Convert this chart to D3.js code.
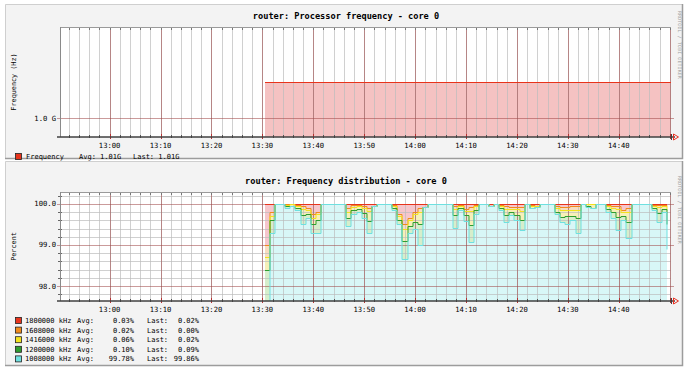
<!DOCTYPE html>
<html>
<head>
<meta charset="utf-8">
<script src="https://cdn.jsdelivr.net/npm/d3@7"></script>
<style>
body { margin: 0; background: #fff; }
text { font-family: "DejaVu Sans Mono", monospace; fill: #000; }
</style>
</head>
<body>
<script>
// ---- data ----
const viewStartLabel = "12:50:15";
const viewEndLabel = "14:50:15";
const tickLabels = ["13:00", "13:10", "13:20", "13:30", "13:40", "13:50",
    "14:00", "14:10", "14:20", "14:30", "14:40"];

// top graph: processor frequency (Hz), 5 minute samples from 13:30:30
const freqStart = "13:30:30";
const freqStepSec = 300;
const freqValues = [1.01e9, 1.01e9, 1.01e9, 1.01e9, 1.01e9, 1.01e9, 1.01e9, 1.01e9,
    1.01e9, 1.01e9, 1.01e9, 1.01e9, 1.01e9, 1.01e9, 1.01e9, 1.01e9, 1.01e9];
const freqYTicks = [1.0e9];
const freqYLabels = ["1.0 G"];

// bottom graph: frequency distribution (percent), 1 minute samples from 13:30:30
const distStart = "13:30:30";
const distStepSec = 60;
const pct1008 = [97.6, 99.3, 100, 100, 99.9, 99.95, 99.85, 99.52, 99.65, 99.3,
    99.3, 100, 100, 100, 100, 100, 99.45, 99.75, 99.8, 99.65,
    99.28, 99.95, 100, 100, 100, 99.85, 99.5, 98.65, 99.3, 99.4,
    99.0, 99.93, 100, 100, 100, 100, 100, 99.42, 99.85, 99.58,
    99.08, 99.75, 100, 100, 99.95, 100, 99.85, 99.57, 99.73, 99.6,
    99.37, 100, 99.9, 99.92, 100, 100, 100, 99.75, 99.57, 99.5,
    99.6, 99.3, 100, 99.92, 99.9, 100, 100, 99.8, 99.65, 99.37,
    99.6, 99.16, 100, 100, 100, 100, 99.85, 99.57, 99.8, 98.9];
const pct1200 = [0.8, 0.3, 0, 0, 0.05, 0, 0.05, 0.2, 0.1, 0.2,
    0.3, 0, 0, 0, 0, 0, 0.2, 0.1, 0.08, 0.12,
    0.3, 0, 0, 0, 0, 0.05, 0.1, 0.45, 0.15, 0.15,
    0.5, 0, 0, 0, 0, 0, 0, 0.3, 0.05, 0.15,
    0.4, 0.1, 0, 0, 0, 0, 0.05, 0.15, 0.07, 0.12,
    0.25, 0, 0, 0, 0, 0, 0, 0.05, 0.12, 0.2,
    0.1, 0.35, 0, 0.04, 0, 0, 0, 0.08, 0.15, 0.3,
    0.1, 0.4, 0, 0, 0, 0, 0.05, 0.2, 0.08, 0.6];
const pct1416 = [0.3, 0.1, 0, 0, 0.03, 0.05, 0.05, 0.15, 0.1, 0.15,
    0.15, 0, 0, 0, 0, 0, 0.15, 0.08, 0.07, 0.12,
    0.25, 0, 0, 0, 0, 0.05, 0.1, 0.3, 0.15, 0.2,
    0.3, 0, 0, 0, 0, 0, 0, 0.15, 0.05, 0.1,
    0.35, 0.1, 0, 0, 0, 0, 0.05, 0.15, 0.08, 0.15,
    0.2, 0, 0.05, 0.04, 0, 0, 0, 0.1, 0.15, 0.15,
    0.15, 0.2, 0, 0.04, 0.1, 0, 0, 0.07, 0.1, 0.2,
    0.1, 0.25, 0, 0, 0, 0, 0.05, 0.15, 0.07, 0.35];
const pct1608 = [0.3, 0.1, 0, 0, 0.01, 0, 0.03, 0.08, 0.05, 0.1,
    0.05, 0, 0, 0, 0, 0, 0.1, 0.04, 0.03, 0.05,
    0.07, 0, 0, 0, 0, 0.03, 0.05, 0.1, 0.05, 0.05,
    0.1, 0, 0, 0, 0, 0, 0, 0.08, 0.02, 0.05,
    0.1, 0.03, 0, 0, 0, 0, 0.03, 0.08, 0.04, 0.05,
    0.1, 0, 0.02, 0, 0, 0, 0, 0.05, 0.08, 0.07,
    0.1, 0.1, 0, 0, 0, 0, 0, 0.03, 0.05, 0.08,
    0.05, 0.1, 0, 0, 0, 0, 0.03, 0.05, 0.03, 0.1];
const pct1800 = [1.0, 0.2, 0, 0, 0.01, 0, 0.02, 0.05, 0.1, 0.25,
    0.2, 0, 0, 0, 0, 0, 0.1, 0.03, 0.02, 0.06,
    0.1, 0.05, 0, 0, 0, 0.02, 0.25, 0.5, 0.35, 0.2,
    0.1, 0.07, 0, 0, 0, 0, 0, 0.05, 0.03, 0.12,
    0.07, 0.02, 0, 0, 0.05, 0, 0.02, 0.05, 0.08, 0.08,
    0.08, 0, 0.03, 0.04, 0, 0, 0, 0.05, 0.08, 0.08,
    0.05, 0.05, 0, 0, 0, 0, 0, 0.02, 0.05, 0.05,
    0.15, 0.09, 0, 0, 0, 0, 0.02, 0.03, 0.02, 0.05];
const distYTicks = [98, 99, 100];
const distYLabels = ["98.0", "99.0", "100.0"];

// legend texts (order as in the picture)
const seriesNames = ["1800000 kHz", "1608000 kHz", "1416000 kHz", "1200000 kHz", "1008000 kHz"];
const seriesAvg = ["0.03%", "0.02%", "0.06%", "0.10%", "99.78%"];
const seriesLast = ["0.02%", "0.00%", "0.02%", "0.09%", "99.86%"];
const freqName = "Frequency";
const freqAvg = "1.01G";
const freqLast = "1.01G";

// ---- styles ----
const lineColors = ["#e8341c", "#f08a1c", "#f2e21e", "#2f9d2f", "#6fe0e0"];
const fillColors = ["#f6c6cc", "#f8dcc0", "#f6f0b8", "#d6eecb", "#d8f7f7"];

const W = 690, H = 370;
const svg = d3.select("body").append("svg")
    .attr("width", W).attr("height", H);

const parseTime = d3.timeParse("%H:%M:%S");
const parseLabel = d3.timeParse("%H:%M");
const viewStart = parseTime(viewStartLabel), viewEnd = parseTime(viewEndLabel);
const x = d3.scaleTime().domain([viewStart, viewEnd]).range([60, 671]);
const px = v => Math.round(v) + 0.5;

const minorTimes = d3.timeMinute.every(2).range(viewStart, viewEnd);
const majorTimes = d3.timeMinute.every(10).range(viewStart, viewEnd);

function panel(y0, h){
    const g = svg.append("g");
    g.append("rect").attr("x", 5).attr("y", y0).attr("width", 678).attr("height", h)
        .attr("fill", "#f3f3f3");
    g.append("path").attr("d", `M5.5,${y0 + h}V${y0 + 0.5}H683`)
        .attr("fill", "none").attr("stroke", "#cfcfcf").attr("stroke-width", 1);
    g.append("path").attr("d", `M5,${y0 + h - 0.5}H682.5V${y0}`)
        .attr("fill", "none").attr("stroke", "#9c9c9c").attr("stroke-width", 1.5);
    return g;
}

function clip(top, bottom){
    const clipId = "clip" + top;
    svg.append("clipPath").attr("id", clipId)
        .append("rect").attr("x", 60).attr("y", top).attr("width", 611).attr("height", bottom - top);
    return clipId;
}

function grid(g, top, bottom, y, minorY, majorY){
    // minor vertical
    g.selectAll(null).data(minorTimes).enter().append("line")
        .attr("x1", d => px(x(d))).attr("x2", d => px(x(d)))
        .attr("y1", top).attr("y2", bottom)
        .attr("stroke", "#bcbcbc").attr("stroke-opacity", 0.7);
    // minor horizontal
    g.selectAll(null).data(minorY).enter().append("line")
        .attr("x1", 60).attr("x2", 671)
        .attr("y1", d => px(y(d))).attr("y2", d => px(y(d)))
        .attr("stroke", "#bcbcbc").attr("stroke-opacity", 0.7);
    // major vertical
    g.selectAll(null).data(majorTimes).enter().append("line")
        .attr("x1", d => px(x(d))).attr("x2", d => px(x(d)))
        .attr("y1", top).attr("y2", bottom)
        .attr("stroke", "#a04848").attr("stroke-opacity", 0.55);
    // major horizontal
    g.selectAll(null).data(majorY).enter().append("line")
        .attr("x1", 57).attr("x2", 674)
        .attr("y1", d => px(y(d))).attr("y2", d => px(y(d)))
        .attr("stroke", "#a04848").attr("stroke-opacity", 0.55);
    // tick marks on the frame
    g.selectAll(null).data(minorTimes).enter().append("line")
        .attr("x1", d => px(x(d))).attr("x2", d => px(x(d)))
        .attr("y1", bottom - 2).attr("y2", bottom + 1)
        .attr("stroke", "#555");
    g.selectAll(null).data(minorTimes).enter().append("line")
        .attr("x1", d => px(x(d))).attr("x2", d => px(x(d)))
        .attr("y1", top).attr("y2", top + 3)
        .attr("stroke", "#777");
    g.selectAll(null).data(majorTimes).enter().append("line")
        .attr("x1", d => px(x(d))).attr("x2", d => px(x(d)))
        .attr("y1", bottom - 3).attr("y2", bottom + 2)
        .attr("stroke", "#b83030");
    g.selectAll(null).data(minorY).enter().append("line")
        .attr("x1", 58).attr("x2", 62)
        .attr("y1", d => px(y(d))).attr("y2", d => px(y(d)))
        .attr("stroke", "#666");
}

function axes(g, top, bottom, y, yTicks, yLabels, yTitle, title, titleY){
    g.append("line").attr("x1", 60).attr("x2", 671).attr("y1", top + 0.5).attr("y2", top + 0.5)
        .attr("stroke", "#9a9a9a");
    g.append("line").attr("x1", 60.5).attr("x2", 60.5).attr("y1", top).attr("y2", bottom)
        .attr("stroke", "#8a8a8a");
    g.append("line").attr("x1", 57).attr("x2", 675).attr("y1", bottom).attr("y2", bottom)
        .attr("stroke", "#404040").attr("stroke-width", 1.5);
    g.append("path")
        .attr("d", `M673.5,${bottom - 3}L678.5,${bottom}L673.5,${bottom + 3}Z`)
        .attr("fill", "none").attr("stroke", "#e83020").attr("stroke-width", 1);
    g.append("line").attr("x1", 671.5).attr("x2", 671.5).attr("y1", bottom - 3).attr("y2", bottom + 3)
        .attr("stroke", "#404040");

    g.selectAll(null).data(tickLabels).enter().append("text")
        .attr("x", d => x(parseLabel(d)))
        .attr("y", bottom + 11)
        .attr("text-anchor", "middle")
        .attr("font-size", 7.2)
        .text(d => d);
    g.selectAll(null).data(yTicks).enter().append("text")
        .attr("x", 56)
        .attr("y", d => y(d) + 2.5)
        .attr("text-anchor", "end")
        .attr("font-size", 7.2)
        .text((d, i) => yLabels[i]);
    g.append("text")
        .attr("transform", `translate(16,${(top + bottom) / 2}) rotate(-90)`)
        .attr("text-anchor", "middle")
        .attr("font-size", 6.8)
        .text(yTitle);
    g.append("text")
        .attr("x", 346).attr("y", titleY)
        .attr("text-anchor", "middle")
        .attr("font-size", 8.6)
        .attr("font-weight", "bold")
        .text(title);
    g.append("text")
        .attr("transform", `translate(678,${titleY - 8}) rotate(90)`)
        .attr("font-size", 4.8)
        .style("fill", "#a0a0a0")
        .attr("letter-spacing", 0.2)
        .text("RRDTOOL / TOBI OETIKER");
}

/* ------- TOP PANEL: processor frequency -------*/
const p1 = panel(4, 155);
const top1 = 27, bottom1 = 137;
const y1 = d3.scaleLinear().domain([0.9948e9, 1.0254e9]).range([bottom1, top1]);
p1.append("rect").attr("x", 60).attr("y", top1).attr("width", 611).attr("height", bottom1 - top1)
    .attr("fill", "#fff");
const clip1 = clip(top1, bottom1);

const t1 = parseTime(freqStart);
const freqData = freqValues.map((v, i) => ({t: d3.timeSecond.offset(t1, i * freqStepSec), v: v}));
const area1 = d3.area().curve(d3.curveStepAfter)
    .x(d => Math.round(x(d.t))).y0(bottom1).y1(d => Math.round(y1(d.v)));
const line1 = d3.line().curve(d3.curveStepAfter)
    .x(d => Math.round(x(d.t))).y(d => px(y1(d.v)));
p1.append("path").datum(freqData).attr("d", area1)
    .attr("fill", "#f5c2c2").attr("clip-path", `url(#${clip1})`);
grid(p1, top1, bottom1, y1, [], freqYTicks);
p1.append("path").datum(freqData).attr("d", line1)
    .attr("fill", "none").attr("stroke", "#e8341c").attr("stroke-width", 1)
    .attr("clip-path", `url(#${clip1})`);
axes(p1, top1, bottom1, y1, freqYTicks, freqYLabels, "Frequency (Hz)",
    "router: Processor frequency - core 0", 19);

p1.append("rect").attr("x", 15.5).attr("y", 153.5).attr("width", 6).attr("height", 6)
    .attr("fill", "#e8341c").attr("stroke", "#222").attr("stroke-width", 0.8);
p1.append("text").attr("x", 26).attr("y", 159).attr("font-size", 7).text(freqName);
p1.append("text").attr("x", 79).attr("y", 159).attr("font-size", 7).text("Avg: " + freqAvg);
p1.append("text").attr("x", 133).attr("y", 159).attr("font-size", 7).text("Last: " + freqLast);

/* ------- BOTTOM PANEL: frequency distribution -------*/
const p2 = panel(161, 205);
const top2 = 192, bottom2 = 301;
const y2 = d3.scaleLinear().domain([97.636, 100.29]).range([bottom2, top2]);
p2.append("rect").attr("x", 60).attr("y", top2).attr("width", 611).attr("height", bottom2 - top2)
    .attr("fill", "#fff");
const clip2 = clip(top2, bottom2);

const t2 = parseTime(distStart);
const keys = ["f1008", "f1200", "f1416", "f1608", "f1800"];
const distRows = pct1008.map((v, i) => ({
    t: d3.timeSecond.offset(t2, i * distStepSec),
    f1008: v, f1200: pct1200[i], f1416: pct1416[i], f1608: pct1608[i], f1800: pct1800[i]
}));
const stacked = d3.stack().keys(keys)(distRows);
// stacked[0] = 1008000 (bottom) ... stacked[4] = 1800000 (top)
const keyColor = k => lineColors[4 - keys.indexOf(k)];
const keyFill = k => fillColors[4 - keys.indexOf(k)];

const area2 = d3.area().curve(d3.curveStepAfter)
    .x(d => Math.round(x(d.data.t)))
    .y0(d => Math.min(Math.round(y2(d[0])), bottom2 + 5))
    .y1(d => Math.round(y2(d[1])));
const line2 = d3.line().curve(d3.curveStepAfter)
    .x(d => Math.round(x(d.data.t)))
    .y(d => px(y2(d[1])));

p2.append("g").attr("clip-path", `url(#${clip2})`)
    .selectAll("path").data(stacked).enter().append("path")
    .attr("d", area2)
    .attr("fill", d => keyFill(d.key));

grid(p2, top2, bottom2, y2, d3.range(97.8, 100.3, 0.2).filter(v => Math.abs(v - Math.round(v)) > 0.01), distYTicks);

p2.append("g").attr("clip-path", `url(#${clip2})`)
    .selectAll("path").data(stacked.slice().reverse()).enter().append("path")
    .attr("d", line2)
    .attr("fill", "none")
    .attr("stroke", d => keyColor(d.key))
    .attr("stroke-width", 1);

axes(p2, top2, bottom2, y2, distYTicks, distYLabels, "Percent",
    "router: Frequency distribution - core 0", 184);

/* ------- LEGEND -------*/
const legend = p2.selectAll("g.legend").data(seriesNames).enter().append("g")
    .attr("class", "legend")
    .attr("transform", (d, i) => `translate(0,${320 + i * 9.6})`);
legend.append("rect").attr("x", 15.5).attr("y", -2.5).attr("width", 6).attr("height", 6)
    .attr("fill", (d, i) => lineColors[i]).attr("stroke", "#222").attr("stroke-width", 0.8);
legend.append("text").attr("x", 25).attr("y", 3).attr("font-size", 7).text(d => d);
legend.append("text").attr("x", 77).attr("y", 3).attr("font-size", 7).text("Avg:");
legend.append("text").attr("x", 134).attr("y", 3).attr("font-size", 7)
    .attr("text-anchor", "end").text((d, i) => seriesAvg[i]);
legend.append("text").attr("x", 147).attr("y", 3).attr("font-size", 7).text("Last:");
legend.append("text").attr("x", 199).attr("y", 3).attr("font-size", 7)
    .attr("text-anchor", "end").text((d, i) => seriesLast[i]);
</script>
</body>
</html>
